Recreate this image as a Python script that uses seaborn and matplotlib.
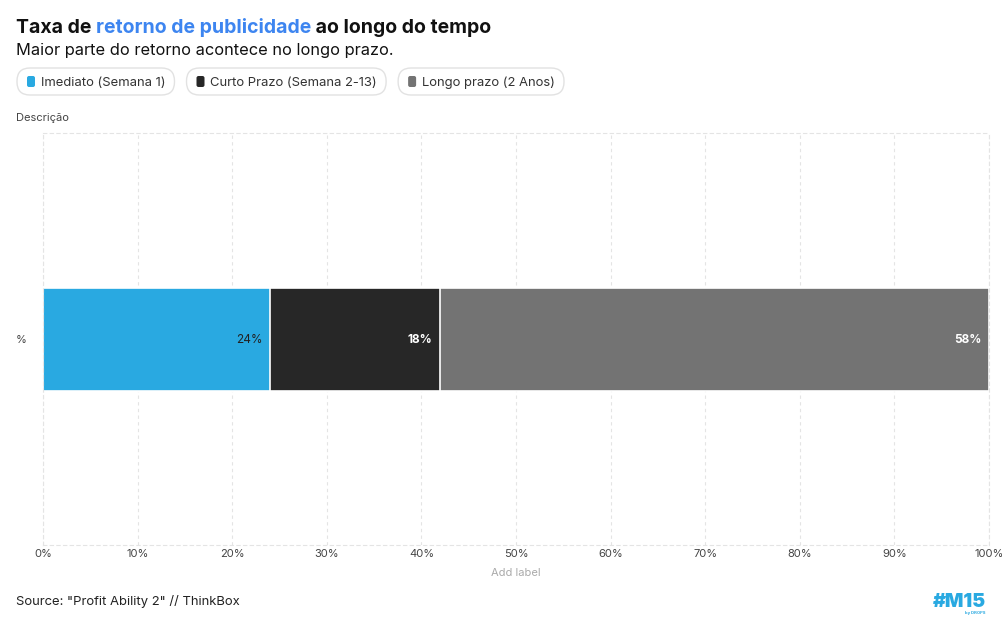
import numpy as np
import pandas as pd
import seaborn as sns
import matplotlib.pyplot as plt
from matplotlib.patches import FancyBboxPatch
from matplotlib.transforms import IdentityTransform

# dados
categorias = ["Imediato (Semana 1)", "Curto Prazo (Semana 2-13)", "Longo prazo (2 Anos)"]
valores = [24, 18, 58]
cores = ["#29A9E1", "#272727", "#737373"]
cores_rotulo = ["#222222", "#ffffff", "#ffffff"]
pesos_rotulo = ["normal", "bold", "bold"]
linha = ["%"]
ticks_x = [0, 10, 20, 30, 40, 50, 60, 70, 80, 90, 100]

sns.set_theme(style="white")
plt.rcParams["font.family"] = ["Inter", "DejaVu Sans"]

W, H = 1003, 627
fig = plt.figure(figsize=(W / 100, H / 100), dpi=100)
ax = fig.add_axes([43 / W, 1 - 545 / H, (989 - 43) / W, (545 - 133) / H])

# barras empilhadas: desenha os acumulados do maior para o menor
acumulado = np.cumsum(valores)
for i in range(len(valores) - 1, -1, -1):
    df = pd.DataFrame({"linha": linha, "valor": [acumulado[i]]})
    sns.barplot(data=df, x="valor", y="linha", orient="h", color=cores[i],
                width=0.5, edgecolor="white", linewidth=1.2, saturation=1, ax=ax)

for i, v in enumerate(valores):
    ax.annotate(f"{v}%", xy=(acumulado[i], 0), xytext=(-5.5, -0.5), textcoords="offset points",
                ha="right", va="center", fontsize=8.5, color=cores_rotulo[i],
                fontweight=pesos_rotulo[i])

ax.set_xlim(0, 100)
ax.set_ylim(1, -1)
ax.set_xticks(ticks_x)
ax.set_xticklabels([f"{t}%" for t in ticks_x], fontsize=8, color="#444444")
ax.tick_params(axis="x", length=0, pad=3)
ax.tick_params(axis="y", length=8, color="#dddddd", labelsize=8, labelcolor="#444444", pad=4)
for t in ax.yaxis.get_ticklines():
    t.set_linestyle((0, (2, 2)))
ax.set_ylabel("")
ax.set_xlabel("Add label", fontsize=8, color="#aaaaaa", labelpad=6)
ax.grid(axis="x", color="#e4e4e4", linestyle=(0, (3, 3)), linewidth=0.8)
ax.set_axisbelow(True)
for s in ax.spines.values():
    s.set_color("#e4e4e4")
    s.set_linestyle((0, (3, 3)))
    s.set_linewidth(0.8)

# título em várias cores
renderer = fig.canvas.get_renderer()
x = 16 / W
for parte, cor in [("Taxa de ", "#111111"), ("retorno de publicidade", "#3D85F0"),
                   (" ao longo do tempo", "#111111")]:
    t = fig.text(x, 1 - 33 / H, parte, fontsize=14, fontweight="bold", color=cor, va="baseline")
    bb = t.get_window_extent(renderer)
    x = bb.x1 / W
fig.text(16 / W, 1 - 55 / H, "Maior parte do retorno acontece no longo prazo.",
         fontsize=11.8, color="#111111", va="baseline")

# legenda em "pílulas" (coordenadas em pixels)
px = IdentityTransform()
x = 17
for nome, cor in zip(categorias, cores):
    t = fig.text((x + 24) / W, 1 - 86 / H, nome, fontsize=9.4, color="#333333", va="baseline")
    bb = t.get_window_extent(renderer)
    x1 = bb.x1 + 9
    fig.patches.append(FancyBboxPatch((x, H - 95), x1 - x, 27,
                                      boxstyle="round,pad=0,rounding_size=13",
                                      transform=px, facecolor="none",
                                      edgecolor="#e2e2e2", linewidth=1))
    fig.patches.append(FancyBboxPatch((x + 10, H - 87), 8, 11,
                                      boxstyle="round,pad=0,rounding_size=2",
                                      transform=px, facecolor=cor, edgecolor="none"))
    x = x1 + 12

fig.text(16 / W, 1 - 121 / H, "Descrição", fontsize=8, color="#444444", va="baseline")
fig.text(16 / W, 1 - 605 / H, 'Source: "Profit Ability 2" // ThinkBox', fontsize=9.4,
         color="#222222", va="baseline")
fig.text(986 / W, 1 - 607 / H, "#M15", fontsize=14, fontweight="black", color="#29A9E1",
         ha="right", va="baseline")
fig.text(986 / W, 1 - 614 / H, "by DROPS", fontsize=3, fontweight="bold", color="#29A9E1",
         ha="right", va="baseline")

fig.savefig("out.png", dpi=100)
